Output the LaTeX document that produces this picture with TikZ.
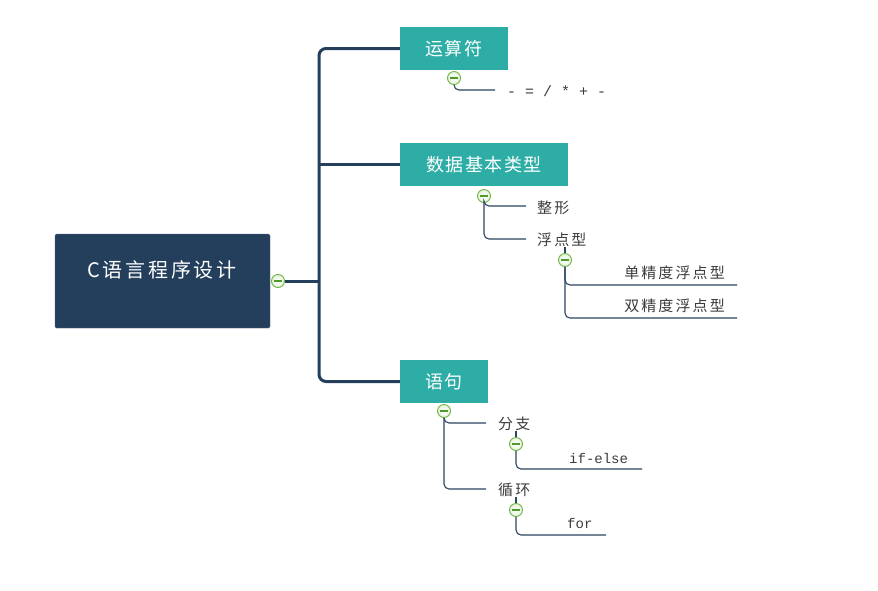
\documentclass[tikz,border=0pt]{standalone}
\usepackage{fontspec}
\setmainfont{Noto Sans CJK SC}
\newfontfamily\cjkroot[LetterSpace=14]{Noto Sans CJK SC}
\newfontfamily\cjkone[LetterSpace=8]{Noto Sans CJK SC}
\newfontfamily\cjktwo[LetterSpace=14]{Noto Sans CJK SC}
\newfontfamily\monofont{Liberation Mono}
\usetikzlibrary{calc}
\definecolor{navy}{HTML}{243F5C}
\definecolor{teal1}{HTML}{2EADA6}
\definecolor{subline}{HTML}{2B4461}
\definecolor{txt}{HTML}{3C3C3C}
\definecolor{cgreen}{HTML}{6CB33F}
\definecolor{cdark}{HTML}{4E9A2A}
\definecolor{cfill}{HTML}{E6F2DC}
\tikzset{
  rootbox/.style={rectangle, fill=navy, draw=navy!80!white, rounded corners=1.5pt, minimum width=215pt, minimum height=94pt, inner sep=0pt},
  roottext/.style={text=white, font=\cjkroot\fontsize{20pt}{24pt}\selectfont, inner sep=0pt},
  topicbox/.style={rectangle, fill=teal1, minimum height=43pt, inner sep=0pt, text=white, font=\cjkone\fontsize{18pt}{22pt}\selectfont},
  subtext/.style={text=txt, font=\cjktwo\fontsize{15pt}{18pt}\selectfont, inner sep=0pt},
  monotext/.style={text=txt, font=\monofont\fontsize{14pt}{17pt}\selectfont, inner sep=0pt},
  coll/.style={circle, draw=cgreen, line width=0.9pt, inner color=white, outer color=cfill, minimum size=13pt, inner sep=0pt,
    path picture={\draw[cdark, line width=1.3pt] ($(path picture bounding box.center)+(-3.6pt,0)$) -- ($(path picture bounding box.center)+(3.6pt,0)$);}},
  trunk/.style={draw=navy, line width=3pt, rounded corners=7pt},
  sub/.style={draw=subline, line width=1.1pt, rounded corners=5pt},
}
\begin{document}
\begin{tikzpicture}[x=1pt,y=-1pt]
\useasboundingbox (0,0) rectangle (878,590);
% root
\node[rootbox] (root) at (162.5,281) {};
\node[roottext] (roottxt) at (162,270) {C语言程序设计};
\node[coll] (c0) at (278,281) {};
\coordinate (j) at (319,281);
% topics
\node[topicbox, minimum width=108pt] (op) at (454,48.5) {运算符};
\node[topicbox, minimum width=168pt] (dt) at (484,164.5) {数据基本类型};
\node[topicbox, minimum width=88pt] (st) at (444,381.5) {语句};
\draw[trunk] (c0.east) -- (j);
\draw[trunk] (op.west) -| (j) |- (st.west);
\draw[trunk] (dt.west) -- (j |- dt.west);
% operator branch
\node[coll] (c1) at (454,78) {};
\coordinate (e1) at (495,90);
\draw[sub] (c1.south) |- (e1);
\node[monotext, font=\monofont\fontsize{15pt}{18pt}\selectfont, anchor=west] (ops) at (507,91) {- = / * + -};
% data type branch
\node[coll] (c2) at (484,196) {};
\coordinate (e21) at (526,206);
\coordinate (e22) at (526,239);
\draw[sub] (c2.south) |- (e21);
\draw[sub] (c2.south) |- (e22);
\node[subtext, anchor=west] (zx) at (537,208) {整形};
\node[subtext, anchor=west] (fd) at (537,240) {浮点型};
\node[coll] (c21) at (565,260) {};
\draw[subline, line width=1.1pt] (c21.north) -- (c21.north |- fd.south);
\coordinate (e211) at (737,285);
\coordinate (e212) at (737,318);
\draw[sub] (c21.south) |- (e211);
\draw[sub] (c21.south) |- (e212);
\node[subtext, anchor=east] (dj) at (725,273) {单精度浮点型};
\node[subtext, anchor=east] (sj) at (725,306) {双精度浮点型};
% statement branch
\node[coll] (c3) at (444,411) {};
\coordinate (e31) at (486,423);
\coordinate (e32) at (486,489);
\draw[sub] (c3.south) |- (e31);
\draw[sub] (c3.south) |- (e32);
\node[subtext, anchor=west] (fz) at (498,424) {分支};
\node[subtext, anchor=west] (xh) at (498,490) {循环};
\node[coll] (c31) at (516,444) {};
\node[coll] (c32) at (516,510) {};
\draw[subline, line width=1.1pt] (c31.north) -- (c31.north |- fz.south);
\draw[subline, line width=1.1pt] (c32.north) -- (c32.north |- xh.south);
\coordinate (e311) at (642,469);
\coordinate (e321) at (606,535);
\draw[sub] (c31.south) |- (e311);
\draw[sub] (c32.south) |- (e321);
\node[monotext, anchor=west] (ife) at (569,458) {if-else};
\node[monotext, anchor=west] (forn) at (567,523) {for};
\end{tikzpicture}
\end{document}
